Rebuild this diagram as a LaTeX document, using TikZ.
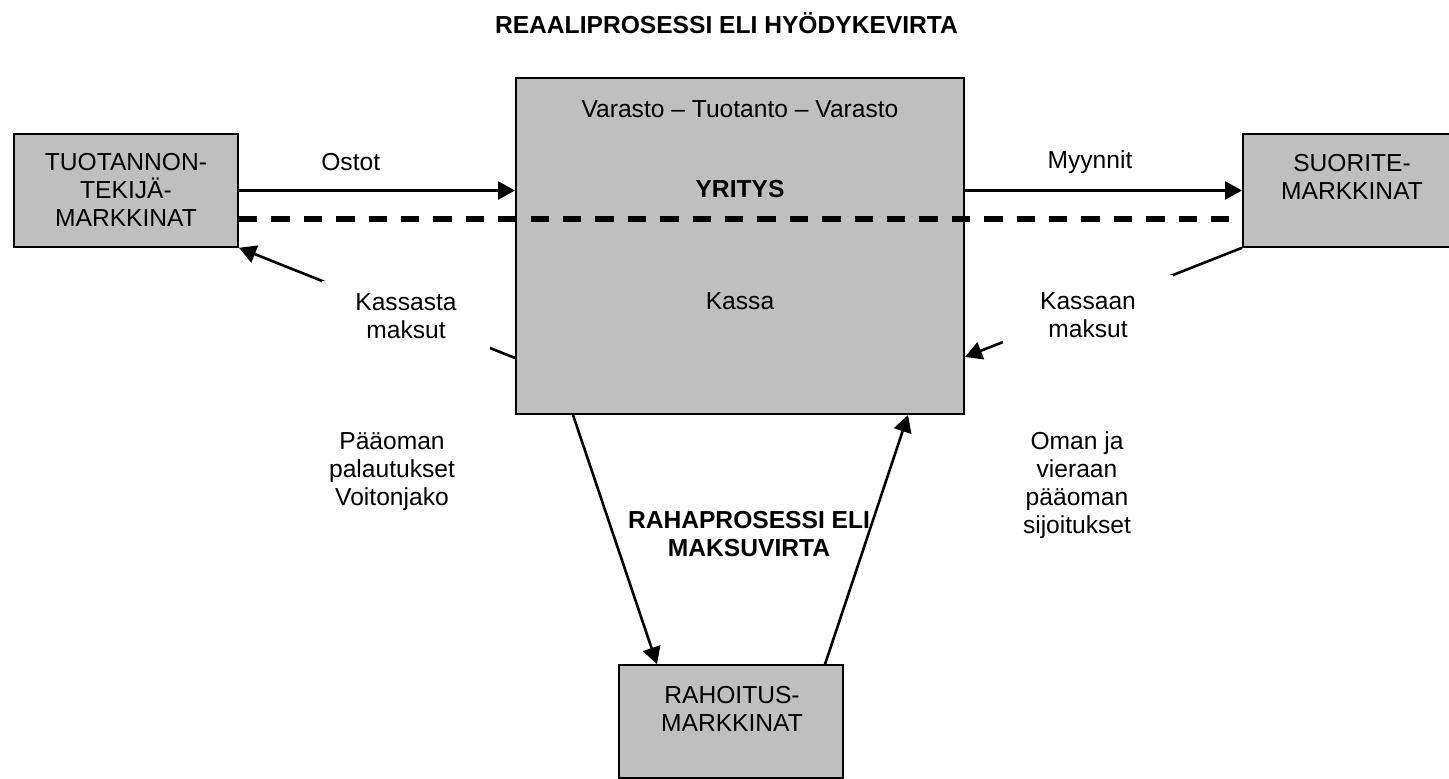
\documentclass[tikz,border=0pt]{standalone}
\usepackage{fontspec}
\setmainfont{Liberation Sans}
\usetikzlibrary{arrows.meta}

\begin{document}
\begin{tikzpicture}[x=0.5pt,y=-0.5pt,
    every node/.style={font=\fontsize{12.3}{14}\selectfont, align=center, inner sep=0pt},
    market/.style={draw, line width=1pt, fill=black!25, minimum width=112pt, minimum height=56.3pt},
    flow/.style={line width=1.3pt, -{Triangle[length=8.5pt,width=9pt]}},
    gapbox/.style={fill=white}]
    \clip (0,0) rectangle (1449,779);
    % boxes
    \node[market] (tekija) at (126,190.5) {};
    \node[market] (suorite) at (1355,190.5) {};
    \node[market] (rahoitus) at (731,721.5) {};
    \node[market, minimum width=224pt, minimum height=168pt] (yritys) at (740,246) {};
    % real flow
    \draw[flow] (tekija.east) -- (tekija.east -| yritys.west);
    \draw[flow] (yritys.east |- suorite.west) -- (suorite.west);
    \draw[line width=2.6pt, dash pattern=on 9.2pt off 7pt] ([yshift=-14.25pt]tekija.east) -- ([yshift=-14.25pt]suorite.west);
    % money flow
    \draw[flow] ([yshift=-56pt]yritys.west) -- (tekija.south east);
    \draw[flow] (suorite.south west) -- ([yshift=-55.5pt]yritys.east);
    \draw[flow] ([xshift=-83.5pt]yritys.south) -- ([xshift=-37pt]rahoitus.north);
    \draw[flow] ([xshift=47pt]rahoitus.north) -- ([xshift=84pt]yritys.south);
    % texts
    \node[font=\fontsize{12.3}{14}\selectfont\bfseries] (title) at (726.5,23.3) {REAALIPROSESSI ELI HYÖDYKEVIRTA};
    \node (tekijatext) at (126,190) {TUOTANNON-\\TEKIJÄ-\\MARKKINAT};
    \node (suoritetext) at (1352,177) {SUORITE-\\MARKKINAT};
    \node (rahoitustext) at (732,708.5) {RAHOITUS-\\MARKKINAT};
    \node (varasto) at (740,109) {Varasto – Tuotanto – Varasto};
    \node[font=\fontsize{12.3}{14}\selectfont\bfseries] (yritystext) at (740,189) {YRITYS};
    \node (kassa) at (740,300.7) {Kassa};
    \node (ostot) at (350.7,161.7) {Ostot};
    \node (myynnit) at (1090,161.7) {Myynnit};
    \node[gapbox, minimum width=84.3pt, minimum height=35.3pt] (kassasta) at (406,316) {Kassasta\\maksut};
    \node[gapbox, minimum width=85pt, minimum height=40.5pt] (kassaan) at (1088,315.5) {Kassaan\\maksut};
    \node (palautukset) at (392,471.5) {Pääoman\\palautukset\\Voitonjako};
    \node (sijoitukset) at (1077,485.5) {Oman ja\\vieraan\\pääoman\\sijoitukset};
    \node[font=\fontsize{12.3}{14}\selectfont\bfseries] (rahaprosessi) at (749,534) {RAHAPROSESSI ELI\\MAKSUVIRTA};
\end{tikzpicture}
\end{document}
